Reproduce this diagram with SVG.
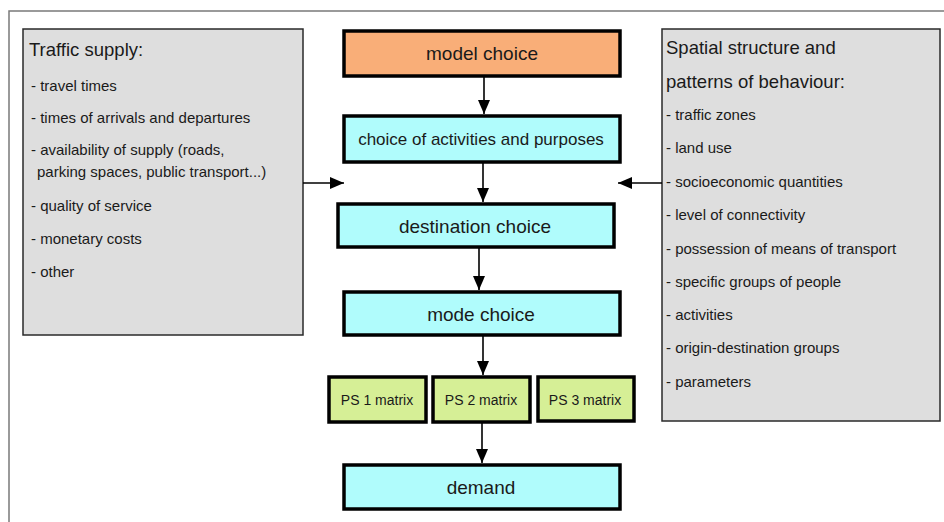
<svg xmlns="http://www.w3.org/2000/svg" width="944" height="522" viewBox="0 0 944 522">
<defs>
<marker id="ah" markerUnits="userSpaceOnUse" markerWidth="14" markerHeight="14" viewBox="0 0 14 14" refX="14" refY="7" orient="auto">
<path d="M0,1 L14,7 L0,13 Z" fill="#000"/>
</marker>
<style>
.frame{fill:none;stroke:#7a7a7a;stroke-width:1.5}
.info{fill:#dedede;stroke:#2a2a2a;stroke-width:1.5}
.node{stroke:#000;stroke-width:3.5}
.orange{fill:#f9ae78}
.cyan{fill:#b0fcfc}
.green{fill:#d6ef96}
.conn{stroke:#000;stroke-width:1.6;fill:none;marker-end:url(#ah)}
text{font-family:"Liberation Sans",Arial,sans-serif;fill:#1a1a1a}
.h{font-size:18.5px}
.i{font-size:15px}
.n{font-size:19px;text-anchor:middle}
.s{font-size:17px;text-anchor:middle}
.p{font-size:14px;text-anchor:middle}
</style>
</defs>
<rect width="944" height="522" fill="#fff"/>
<path class="frame" d="M9,522 L9,11 L944,11"/>

<g id="traffic-supply">
<rect class="info" x="23" y="29" width="280" height="306"/>
<text class="h" x="29" y="56">Traffic supply:</text>
<text class="i" x="31" y="91">- travel times</text>
<text class="i" x="31" y="123">- times of arrivals and departures</text>
<text class="i" x="31" y="155">- availability of supply (roads,</text>
<text class="i" x="37" y="177">parking spaces, public transport...)</text>
<text class="i" x="31" y="211">- quality of service</text>
<text class="i" x="31" y="244">- monetary costs</text>
<text class="i" x="31" y="277">- other</text>
</g>

<g id="spatial-structure">
<rect class="info" x="662" y="29" width="278" height="392"/>
<text class="h" x="666" y="54">Spatial structure and</text>
<text class="h" x="666" y="88">patterns of behaviour:</text>
<text class="i" x="666" y="120">- traffic zones</text>
<text class="i" x="666" y="153">- land use</text>
<text class="i" x="666" y="187">- socioeconomic quantities</text>
<text class="i" x="666" y="220">- level of connectivity</text>
<text class="i" x="666" y="254">- possession of means of transport</text>
<text class="i" x="666" y="287">- specific groups of people</text>
<text class="i" x="666" y="320">- activities</text>
<text class="i" x="666" y="353">- origin-destination groups</text>
<text class="i" x="666" y="387">- parameters</text>
</g>

<g id="model-choice">
<rect class="node orange" x="344" y="31" width="276" height="45"/>
<text class="n" x="482" y="60">model choice</text>
</g>
<g id="activities">
<rect class="node cyan" x="344" y="116" width="276" height="46"/>
<text class="s" x="481" y="145">choice of activities and purposes</text>
</g>
<g id="destination-choice">
<rect class="node cyan" x="338" y="204" width="276" height="43"/>
<text class="n" x="475" y="233">destination choice</text>
</g>
<g id="mode-choice">
<rect class="node cyan" x="344" y="292" width="276" height="43"/>
<text class="n" x="481" y="321">mode choice</text>
</g>
<g id="ps1">
<rect class="node green" x="329" y="377" width="97" height="45"/>
<text class="p" x="377" y="405">PS 1 matrix</text>
</g>
<g id="ps2">
<rect class="node green" x="433" y="377" width="97" height="45"/>
<text class="p" x="481" y="405">PS 2 matrix</text>
</g>
<g id="ps3">
<rect class="node green" x="538" y="377" width="96" height="44"/>
<text class="p" x="585" y="405">PS 3 matrix</text>
</g>
<g id="demand">
<rect class="node cyan" x="344" y="465" width="276" height="44"/>
<text class="n" x="481" y="494">demand</text>
</g>

<g id="connectors">
<line class="conn" x1="484" y1="77" x2="484" y2="114"/>
<line class="conn" x1="483" y1="163" x2="483" y2="202"/>
<line class="conn" x1="479" y1="248" x2="479" y2="290"/>
<line class="conn" x1="483" y1="336" x2="483" y2="375"/>
<line class="conn" x1="482" y1="423" x2="482" y2="463"/>
<line class="conn" x1="303" y1="183" x2="344" y2="183"/>
<line class="conn" x1="662" y1="183" x2="618" y2="183"/>
</g>
</svg>
